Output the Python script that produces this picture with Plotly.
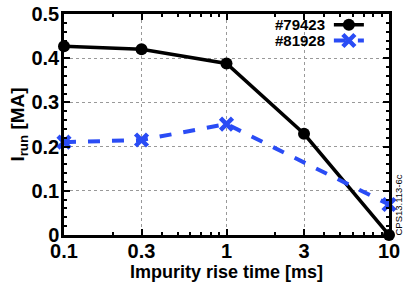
import plotly.graph_objects as go

x_vals = [0.1, 0.3, 1, 3, 10]
s1_name = "#79423"
s1_vals = [0.427, 0.420, 0.388, 0.229, 0.0]
s2_name = "#81928"
s2_x = [0.1, 0.3, 1, 10]
s2_vals = [0.210, 0.215, 0.251, 0.069]
x_ticks = [0.1, 0.3, 1, 3, 10]
x_ticktext = ["0.1", "0.3", "1", "3", "10"]
y_ticks = [0, 0.1, 0.2, 0.3, 0.4, 0.5]
y_ticktext = ["0", "0.1", "0.2", "0.3", "0.4", "0.5"]

FONT = "Liberation Sans, Arial, sans-serif"
BLUE = "#2a4cf5"

fig = go.Figure()
fig.add_trace(go.Scatter(x=x_vals, y=s1_vals, mode="lines+markers", name="",
                         line=dict(color="black", width=3.5),
                         marker=dict(symbol="circle", size=12, color="black"),
                         cliponaxis=False, showlegend=True, legend="legend"))
fig.add_trace(go.Scatter(x=s2_x, y=s2_vals, mode="lines+markers", name="",
                         line=dict(color=BLUE, width=4, dash="dash"),
                         marker=dict(symbol="x-thin", size=12, color=BLUE,
                                     line=dict(width=4.5, color=BLUE)),
                         cliponaxis=False, showlegend=True, legend="legend2"))

axis_common = dict(showline=True, linecolor="black", linewidth=2.5, mirror="ticks",
                   ticks="inside", tickcolor="black", tickwidth=2, ticklen=6,
                   showgrid=True, gridcolor="#999", griddash="dot", gridwidth=1,
                   zeroline=False, automargin=False,
                   tickfont=dict(family=FONT, size=20, color="black", weight="bold"))

fig.update_xaxes(type="log", range=[-1, 1], tickvals=x_ticks, ticktext=x_ticktext,
                 ticklabelstandoff=-4,
                 title=dict(text="Impurity rise time [ms]", standoff=4,
                            font=dict(family=FONT, size=18, color="black", weight="bold")),
                 minor=dict(ticks="inside", ticklen=3, tickwidth=2, tickcolor="black",
                            dtick="D1", showgrid=False),
                 **axis_common)
fig.update_yaxes(range=[0, 0.5], tickvals=y_ticks, ticktext=y_ticktext,
                 ticklabelstandoff=-2,
                 title=dict(text="I<sub>run</sub> [MA]", standoff=2,
                            font=dict(family=FONT, size=19, color="black", weight="bold")),
                 minor=dict(ticks="inside", ticklen=3, tickwidth=2, tickcolor="black",
                            dtick=0.02, showgrid=False),
                 **axis_common)

fig.add_annotation(xref="paper", yref="paper", x=0.81, y=0.951, xanchor="right",
                   yanchor="middle", text=s1_name, showarrow=False,
                   font=dict(family=FONT, size=15, color="black", weight="bold"))
fig.add_annotation(xref="paper", yref="paper", x=0.81, y=0.880, xanchor="right",
                   yanchor="middle", text=s2_name, showarrow=False,
                   font=dict(family=FONT, size=15, color="black", weight="bold"))
fig.add_annotation(xref="paper", yref="paper", x=1.0, xshift=9, y=0.0, yshift=-3,
                   xanchor="center", yanchor="bottom", text="CPS13.113-6c",
                   textangle=-90, showarrow=False,
                   font=dict(family=FONT, size=9.5, color="black"))

leg_common = dict(x=0.815, xanchor="left", yanchor="middle",
                  bgcolor="rgba(0,0,0,0)", itemwidth=30, font=dict(size=9))
fig.update_layout(
    width=407, height=288,
    margin=dict(l=64, r=18, t=10, b=53),
    paper_bgcolor="white", plot_bgcolor="white",
    font=dict(family=FONT, color="black"),
    legend=dict(y=0.951, **leg_common),
    legend2=dict(y=0.880, **leg_common),
)

fig.write_html("out.html", config={"displayModeBar": False},
               post_script="document.body.style.margin='0';document.body.style.overflow='hidden';")
